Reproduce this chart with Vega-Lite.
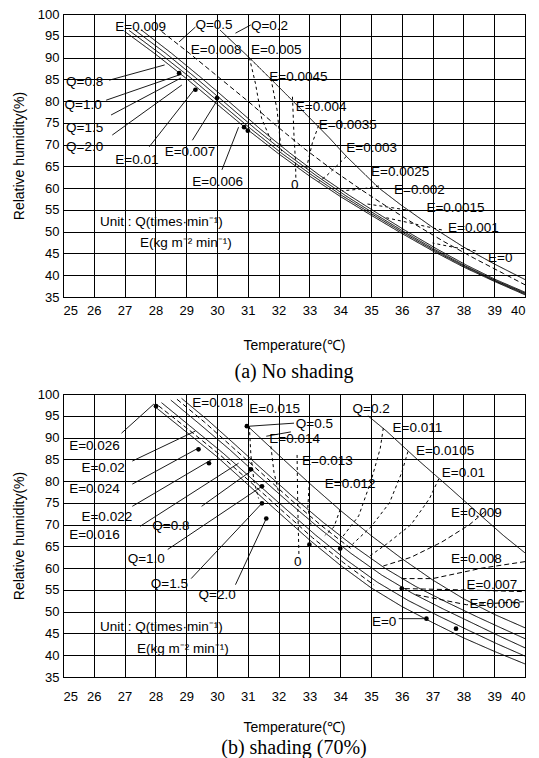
{
  "$schema": "https://vega.github.io/schema/vega-lite/v6.json",
  "padding": {"left": 11, "top": 7, "right": 8, "bottom": 2},
  "background": "white",
  "spacing": 4,
  "config": {
    "font": "Liberation Sans",
    "view": {"stroke": "black", "strokeWidth": 1},
    "axis": {
      "domainColor": "black", "gridColor": "#000", "gridOpacity": 1, "gridWidth": 1,
      "ticks": false, "labelFont": "Liberation Sans", "labelFontSize": 13, "labelColor": "black",
      "titleFont": "Liberation Sans", "titleFontSize": 14, "titleFontWeight": "normal", "titleColor": "black"
    },
    "title": {"font": "Liberation Serif", "fontSize": 20, "fontWeight": "normal", "color": "black"}
  },
  "datasets": {
    "topLines": [
      {"s":"Q2.0","k":"solid","i":0,"t":27.0,"rh":96},{"s":"Q2.0","k":"solid","i":1,"t":28,"rh":90.8},{"s":"Q2.0","k":"solid","i":2,"t":29,"rh":85.2},{"s":"Q2.0","k":"solid","i":3,"t":30,"rh":79.3},{"s":"Q2.0","k":"solid","i":4,"t":31,"rh":73.4},{"s":"Q2.0","k":"solid","i":5,"t":32,"rh":67.9},{"s":"Q2.0","k":"solid","i":6,"t":33,"rh":62.8},{"s":"Q2.0","k":"solid","i":7,"t":34,"rh":58.1},{"s":"Q2.0","k":"solid","i":8,"t":35,"rh":53.8},{"s":"Q2.0","k":"solid","i":9,"t":36,"rh":49.6},{"s":"Q2.0","k":"solid","i":10,"t":37,"rh":45.6},{"s":"Q2.0","k":"solid","i":11,"t":38,"rh":41.9},{"s":"Q2.0","k":"solid","i":12,"t":39,"rh":38.6},{"s":"Q2.0","k":"solid","i":13,"t":40,"rh":35.5},
      {"s":"Q1.5","k":"solid","i":0,"t":27.15,"rh":96.2},{"s":"Q1.5","k":"solid","i":1,"t":28.15,"rh":90.9},{"s":"Q1.5","k":"solid","i":2,"t":29.15,"rh":85.3},{"s":"Q1.5","k":"solid","i":3,"t":30.13,"rh":79.4},{"s":"Q1.5","k":"solid","i":4,"t":31.12,"rh":73.5},{"s":"Q1.5","k":"solid","i":5,"t":32.1,"rh":68},{"s":"Q1.5","k":"solid","i":6,"t":33.1,"rh":62.9},{"s":"Q1.5","k":"solid","i":7,"t":34.08,"rh":58.2},{"s":"Q1.5","k":"solid","i":8,"t":35.07,"rh":53.9},{"s":"Q1.5","k":"solid","i":9,"t":36.06,"rh":49.7},{"s":"Q1.5","k":"solid","i":10,"t":37.05,"rh":45.7},{"s":"Q1.5","k":"solid","i":11,"t":38.04,"rh":42},{"s":"Q1.5","k":"solid","i":12,"t":39.02,"rh":38.7},{"s":"Q1.5","k":"solid","i":13,"t":40,"rh":35.7},
      {"s":"Q1.0","k":"solid","i":0,"t":27.35,"rh":96.2},{"s":"Q1.0","k":"solid","i":1,"t":28.33,"rh":91},{"s":"Q1.0","k":"solid","i":2,"t":29.3,"rh":85.4},{"s":"Q1.0","k":"solid","i":3,"t":30.28,"rh":79.5},{"s":"Q1.0","k":"solid","i":4,"t":31.25,"rh":73.6},{"s":"Q1.0","k":"solid","i":5,"t":32.22,"rh":68.1},{"s":"Q1.0","k":"solid","i":6,"t":33.2,"rh":63},{"s":"Q1.0","k":"solid","i":7,"t":34.17,"rh":58.3},{"s":"Q1.0","k":"solid","i":8,"t":35.14,"rh":54},{"s":"Q1.0","k":"solid","i":9,"t":36.12,"rh":49.8},{"s":"Q1.0","k":"solid","i":10,"t":37.1,"rh":45.8},{"s":"Q1.0","k":"solid","i":11,"t":38.07,"rh":42.1},{"s":"Q1.0","k":"solid","i":12,"t":39.04,"rh":38.8},{"s":"Q1.0","k":"solid","i":13,"t":40,"rh":35.9},
      {"s":"Q0.8","k":"solid","i":0,"t":27.55,"rh":96.3},{"s":"Q0.8","k":"solid","i":1,"t":28.52,"rh":91},{"s":"Q0.8","k":"solid","i":2,"t":29.48,"rh":85.4},{"s":"Q0.8","k":"solid","i":3,"t":30.45,"rh":79.5},{"s":"Q0.8","k":"solid","i":4,"t":31.4,"rh":73.6},{"s":"Q0.8","k":"solid","i":5,"t":32.36,"rh":68.1},{"s":"Q0.8","k":"solid","i":6,"t":33.32,"rh":63},{"s":"Q0.8","k":"solid","i":7,"t":34.28,"rh":58.4},{"s":"Q0.8","k":"solid","i":8,"t":35.24,"rh":54.1},{"s":"Q0.8","k":"solid","i":9,"t":36.2,"rh":49.9},{"s":"Q0.8","k":"solid","i":10,"t":37.17,"rh":45.9},{"s":"Q0.8","k":"solid","i":11,"t":38.13,"rh":42.2},{"s":"Q0.8","k":"solid","i":12,"t":39.08,"rh":38.9},{"s":"Q0.8","k":"solid","i":13,"t":40,"rh":36.1},
      {"s":"Q0.5","k":"dash","i":0,"t":28.2,"rh":96},{"s":"Q0.5","k":"dash","i":1,"t":29.1,"rh":91},{"s":"Q0.5","k":"dash","i":2,"t":30.05,"rh":85.5},{"s":"Q0.5","k":"dash","i":3,"t":31.0,"rh":80},{"s":"Q0.5","k":"dash","i":4,"t":31.9,"rh":74.5},{"s":"Q0.5","k":"dash","i":5,"t":32.85,"rh":69},{"s":"Q0.5","k":"dash","i":6,"t":33.75,"rh":64.2},{"s":"Q0.5","k":"dash","i":7,"t":34.65,"rh":59.8},{"s":"Q0.5","k":"dash","i":8,"t":35.55,"rh":55.6},{"s":"Q0.5","k":"dash","i":9,"t":36.45,"rh":51.6},{"s":"Q0.5","k":"dash","i":10,"t":37.4,"rh":47.6},{"s":"Q0.5","k":"dash","i":11,"t":38.35,"rh":43.9},{"s":"Q0.5","k":"dash","i":12,"t":39.3,"rh":40.4},{"s":"Q0.5","k":"dash","i":13,"t":40,"rh":37.8},
      {"s":"Q0.2","k":"solid","i":0,"t":30.1,"rh":96.3},{"s":"Q0.2","k":"solid","i":1,"t":31,"rh":90.3},{"s":"Q0.2","k":"solid","i":2,"t":32,"rh":83.3},{"s":"Q0.2","k":"solid","i":3,"t":33,"rh":76.2},{"s":"Q0.2","k":"solid","i":4,"t":33.64,"rh":71.6},{"s":"Q0.2","k":"solid","i":5,"t":34.2,"rh":67.3},{"s":"Q0.2","k":"solid","i":6,"t":35.26,"rh":60},{"s":"Q0.2","k":"solid","i":7,"t":36,"rh":56},{"s":"Q0.2","k":"solid","i":8,"t":37,"rh":51},{"s":"Q0.2","k":"solid","i":9,"t":38,"rh":46.5},{"s":"Q0.2","k":"solid","i":10,"t":39,"rh":42.6},{"s":"Q0.2","k":"solid","i":11,"t":40,"rh":39},
      {"s":"E1","k":"dot","i":0,"t":31.05,"rh":90},{"s":"E1","k":"dot","i":1,"t":31.25,"rh":84},{"s":"E1","k":"dot","i":2,"t":31.45,"rh":76},{"s":"E1","k":"dot","i":3,"t":31.75,"rh":71},
      {"s":"E2","k":"dot","i":0,"t":31.75,"rh":85.2},{"s":"E2","k":"dot","i":1,"t":31.95,"rh":78},{"s":"E2","k":"dot","i":2,"t":32.05,"rh":71},{"s":"E2","k":"dot","i":3,"t":32.1,"rh":68.5},
      {"s":"Q0","k":"dot","i":0,"t":32.45,"rh":81},{"s":"Q0","k":"dot","i":1,"t":32.5,"rh":72},{"s":"Q0","k":"dot","i":2,"t":32.55,"rh":66},{"s":"Q0","k":"dot","i":3,"t":32.56,"rh":62.3},
      {"s":"E4","k":"dot","i":0,"t":33.3,"rh":74.4},{"s":"E4","k":"dot","i":1,"t":33.1,"rh":70.5},{"s":"E4","k":"dot","i":2,"t":32.95,"rh":66},{"s":"E4","k":"dot","i":3,"t":32.9,"rh":64},
      {"s":"E5","k":"dot","i":0,"t":34.2,"rh":67.3},{"s":"E5","k":"dot","i":1,"t":33.9,"rh":65.2},{"s":"E5","k":"dot","i":2,"t":33.55,"rh":62.8},{"s":"E5","k":"dot","i":3,"t":33.3,"rh":61.5},
      {"s":"E6","k":"dot","i":0,"t":35.26,"rh":60.5},{"s":"E6","k":"dot","i":1,"t":34.7,"rh":59.8},{"s":"E6","k":"dot","i":2,"t":34.06,"rh":59.4},
      {"s":"E7","k":"dot","i":0,"t":36.33,"rh":54.8},{"s":"E7","k":"dot","i":1,"t":35.6,"rh":55.6},{"s":"E7","k":"dot","i":2,"t":34.84,"rh":56.4},
      {"s":"E8","k":"dot","i":0,"t":37.3,"rh":50.4},{"s":"E8","k":"dot","i":1,"t":36.4,"rh":51.8},{"s":"E8","k":"dot","i":2,"t":35.5,"rh":53.2},
      {"s":"E9","k":"dot","i":0,"t":38.4,"rh":45.6},{"s":"E9","k":"dot","i":1,"t":37.7,"rh":46.4},{"s":"E9","k":"dot","i":2,"t":37.0,"rh":47.4}
    ],
    "topLeaders": [
      {"t":26.5,"rh":84.8,"t2":28.3,"rh2":88.3},{"t":26.4,"rh":80.2,"t2":28.77,"rh2":86},{"t":26.56,"rh":76.8,"t2":28.83,"rh2":85.3},{"t":26.6,"rh":72.2,"t2":28.86,"rh2":83.7},
      {"t":27.8,"rh":69.5,"t2":29.3,"rh2":83},{"t":29.2,"rh":71,"t2":30.07,"rh2":80.9},{"t":30.16,"rh":64.2,"t2":30.7,"rh2":74},
      {"t":29.3,"rh":97,"t2":28.77,"rh2":93.6},{"t":31.1,"rh":97.5,"t2":30.6,"rh2":95.6}
    ],
    "topDots": [
      {"t":28.77,"rh":86.4},{"t":29.3,"rh":82.6},{"t":30.0,"rh":80.7},{"t":30.88,"rh":74},{"t":31.0,"rh":73.2}
    ],
    "topLabels": [
      {"t":26.7,"rh":97,"label":"E=0.009"},{"t":29.3,"rh":97.5,"label":"Q=0.5"},{"t":31.1,"rh":97.3,"label":"Q=0.2"},
      {"t":29.15,"rh":91.7,"label":"E=0.008"},{"t":31.1,"rh":91.7,"label":"E=0.005"},{"t":31.7,"rh":85.5,"label":"E=0.0045"},
      {"t":32.56,"rh":78.6,"label":"E=0.004"},{"t":33.3,"rh":74.5,"label":"E=0.0035"},{"t":34.2,"rh":69.2,"label":"E=0.003"},
      {"t":35.0,"rh":63.7,"label":"E=0.0025"},{"t":35.75,"rh":59.6,"label":"E=0.002"},{"t":36.8,"rh":55.4,"label":"E=0.0015"},
      {"t":37.5,"rh":50.9,"label":"E=0.001"},{"t":38.8,"rh":44,"label":"E=0"},
      {"t":25.1,"rh":84.4,"label":"Q=0.8"},{"t":25.05,"rh":79,"label":"Q=1.0"},{"t":25.1,"rh":73.8,"label":"Q=1.5"},{"t":25.1,"rh":69.5,"label":"Q=2.0"},
      {"t":26.7,"rh":66.5,"label":"E=0.01"},{"t":28.3,"rh":68.3,"label":"E=0.007"},{"t":29.2,"rh":61.4,"label":"E=0.006"},
      {"t":32.4,"rh":60.7,"label":"0"},
      {"t":26.2,"rh":52.2,"label":"Unit : Q(times·min⁻¹)"},{"t":27.5,"rh":47.4,"label":"E(kg m⁻² min⁻¹)"}
    ],
    "botLines": [
      {"s":"Q2.0","k":"solid","i":0,"t":28,"rh":97},{"s":"Q2.0","k":"solid","i":1,"t":29,"rh":91.3},{"s":"Q2.0","k":"solid","i":2,"t":30,"rh":85.6},{"s":"Q2.0","k":"solid","i":3,"t":31,"rh":79.2},{"s":"Q2.0","k":"solid","i":4,"t":32,"rh":72.8},{"s":"Q2.0","k":"solid","i":5,"t":33,"rh":66.5},{"s":"Q2.0","k":"solid","i":6,"t":34,"rh":60.7},{"s":"Q2.0","k":"solid","i":7,"t":35,"rh":55.5},{"s":"Q2.0","k":"solid","i":8,"t":36,"rh":51.2},{"s":"Q2.0","k":"solid","i":9,"t":37,"rh":47.5},{"s":"Q2.0","k":"solid","i":10,"t":38,"rh":44},{"s":"Q2.0","k":"solid","i":11,"t":39,"rh":40.9},{"s":"Q2.0","k":"solid","i":12,"t":40,"rh":38},
      {"s":"Q1.5","k":"solid","i":0,"t":28.2,"rh":98},{"s":"Q1.5","k":"solid","i":1,"t":29.2,"rh":92.2},{"s":"Q1.5","k":"solid","i":2,"t":30.2,"rh":86.4},{"s":"Q1.5","k":"solid","i":3,"t":31.2,"rh":80.1},{"s":"Q1.5","k":"solid","i":4,"t":32.2,"rh":73.8},{"s":"Q1.5","k":"solid","i":5,"t":33.2,"rh":67.6},{"s":"Q1.5","k":"solid","i":6,"t":34.2,"rh":61.9},{"s":"Q1.5","k":"solid","i":7,"t":35.2,"rh":56.8},{"s":"Q1.5","k":"solid","i":8,"t":36.2,"rh":52.6},{"s":"Q1.5","k":"solid","i":9,"t":37.2,"rh":49},{"s":"Q1.5","k":"solid","i":10,"t":38.2,"rh":45.6},{"s":"Q1.5","k":"solid","i":11,"t":39.1,"rh":42.6},{"s":"Q1.5","k":"solid","i":12,"t":40,"rh":39.8},
      {"s":"Q1.0","k":"solid","i":0,"t":28.5,"rh":98.6},{"s":"Q1.0","k":"solid","i":1,"t":29.45,"rh":93},{"s":"Q1.0","k":"solid","i":2,"t":30.4,"rh":87.3},{"s":"Q1.0","k":"solid","i":3,"t":31.35,"rh":81.2},{"s":"Q1.0","k":"solid","i":4,"t":32.35,"rh":75},{"s":"Q1.0","k":"solid","i":5,"t":33.35,"rh":69},{"s":"Q1.0","k":"solid","i":6,"t":34.35,"rh":63.4},{"s":"Q1.0","k":"solid","i":7,"t":35.35,"rh":58.4},{"s":"Q1.0","k":"solid","i":8,"t":36.35,"rh":54.2},{"s":"Q1.0","k":"solid","i":9,"t":37.35,"rh":50.6},{"s":"Q1.0","k":"solid","i":10,"t":38.35,"rh":47.2},{"s":"Q1.0","k":"solid","i":11,"t":39.2,"rh":44.3},{"s":"Q1.0","k":"solid","i":12,"t":40,"rh":41.7},
      {"s":"Q0.8","k":"solid","i":0,"t":28.85,"rh":99},{"s":"Q0.8","k":"solid","i":1,"t":29.7,"rh":94},{"s":"Q0.8","k":"solid","i":2,"t":30.6,"rh":88.3},{"s":"Q0.8","k":"solid","i":3,"t":31.5,"rh":82.5},{"s":"Q0.8","k":"solid","i":4,"t":32.45,"rh":76.5},{"s":"Q0.8","k":"solid","i":5,"t":33.45,"rh":70.5},{"s":"Q0.8","k":"solid","i":6,"t":34.45,"rh":65},{"s":"Q0.8","k":"solid","i":7,"t":35.45,"rh":60},{"s":"Q0.8","k":"solid","i":8,"t":36.45,"rh":55.8},{"s":"Q0.8","k":"solid","i":9,"t":37.45,"rh":52.2},{"s":"Q0.8","k":"solid","i":10,"t":38.45,"rh":48.8},{"s":"Q0.8","k":"solid","i":11,"t":39.25,"rh":46.2},{"s":"Q0.8","k":"solid","i":12,"t":40,"rh":43.8},
      {"s":"Q0.5","k":"solid","i":0,"t":31.0,"rh":92.6},{"s":"Q0.5","k":"solid","i":1,"t":32,"rh":86},{"s":"Q0.5","k":"solid","i":2,"t":33,"rh":79.5},{"s":"Q0.5","k":"solid","i":3,"t":34,"rh":73.3},{"s":"Q0.5","k":"solid","i":4,"t":35,"rh":67.5},{"s":"Q0.5","k":"solid","i":5,"t":36,"rh":62.2},{"s":"Q0.5","k":"solid","i":6,"t":37,"rh":57.3},{"s":"Q0.5","k":"solid","i":7,"t":38,"rh":53},{"s":"Q0.5","k":"solid","i":8,"t":39,"rh":49.4},{"s":"Q0.5","k":"solid","i":9,"t":40,"rh":46.3},
      {"s":"Q0.2","k":"solid","i":0,"t":34.9,"rh":95},{"s":"Q0.2","k":"solid","i":1,"t":35.5,"rh":91.5},{"s":"Q0.2","k":"solid","i":2,"t":36.5,"rh":85},{"s":"Q0.2","k":"solid","i":3,"t":37.5,"rh":78.8},{"s":"Q0.2","k":"solid","i":4,"t":38.5,"rh":72.5},{"s":"Q0.2","k":"solid","i":5,"t":39.3,"rh":67.5},{"s":"Q0.2","k":"solid","i":6,"t":40,"rh":63.5},
      {"s":"D1","k":"dash","i":0,"t":28.1,"rh":97.3},{"s":"D1","k":"dash","i":1,"t":29.1,"rh":91.7},{"s":"D1","k":"dash","i":2,"t":30.1,"rh":86},{"s":"D1","k":"dash","i":3,"t":31.1,"rh":79.7},{"s":"D1","k":"dash","i":4,"t":32.1,"rh":73.3},{"s":"D1","k":"dash","i":5,"t":33.1,"rh":67},{"s":"D1","k":"dash","i":6,"t":34.1,"rh":61.3},{"s":"D1","k":"dash","i":7,"t":35.1,"rh":56.1},
      {"s":"D2","k":"dash","i":0,"t":28.7,"rh":98.8},{"s":"D2","k":"dash","i":1,"t":29.6,"rh":93.5},{"s":"D2","k":"dash","i":2,"t":30.5,"rh":87.8},{"s":"D2","k":"dash","i":3,"t":31.45,"rh":81.8},{"s":"D2","k":"dash","i":4,"t":32.4,"rh":75.7},{"s":"D2","k":"dash","i":5,"t":33.4,"rh":69.7},{"s":"D2","k":"dash","i":6,"t":34.4,"rh":64.2},
      {"s":"E015","k":"dot","i":0,"t":31.05,"rh":92.6},{"s":"E015","k":"dot","i":1,"t":31.1,"rh":86},{"s":"E015","k":"dot","i":2,"t":31.2,"rh":80},{"s":"E015","k":"dot","i":3,"t":31.35,"rh":76},
      {"s":"E014","k":"dot","i":0,"t":31.75,"rh":88},{"s":"E014","k":"dot","i":1,"t":31.85,"rh":82},{"s":"E014","k":"dot","i":2,"t":32.0,"rh":77.5},
      {"s":"Q0","k":"dot","i":0,"t":32.6,"rh":86},{"s":"Q0","k":"dot","i":1,"t":32.62,"rh":75},{"s":"Q0","k":"dot","i":2,"t":32.65,"rh":66},{"s":"Q0","k":"dot","i":3,"t":32.66,"rh":63},
      {"s":"E013","k":"dot","i":0,"t":33.0,"rh":80},{"s":"E013","k":"dot","i":1,"t":32.95,"rh":74},{"s":"E013","k":"dot","i":2,"t":33.05,"rh":70},
      {"s":"E012","k":"dot","i":0,"t":34.0,"rh":73.5},{"s":"E012","k":"dot","i":1,"t":33.8,"rh":69.5},{"s":"E012","k":"dot","i":2,"t":33.5,"rh":67.5},
      {"s":"E011","k":"dot","i":0,"t":35.4,"rh":92.2},{"s":"E011","k":"dot","i":1,"t":35.3,"rh":87.5},{"s":"E011","k":"dot","i":2,"t":35.0,"rh":80},{"s":"E011","k":"dot","i":3,"t":34.6,"rh":72},{"s":"E011","k":"dot","i":4,"t":34.0,"rh":66.5},
      {"s":"E0105","k":"dot","i":0,"t":36.2,"rh":86.8},{"s":"E0105","k":"dot","i":1,"t":36.0,"rh":82},{"s":"E0105","k":"dot","i":2,"t":35.6,"rh":75},{"s":"E0105","k":"dot","i":3,"t":35.0,"rh":69.5},{"s":"E0105","k":"dot","i":4,"t":34.4,"rh":65.5},
      {"s":"E010","k":"dot","i":0,"t":37.2,"rh":80.5},{"s":"E010","k":"dot","i":1,"t":36.9,"rh":76},{"s":"E010","k":"dot","i":2,"t":36.3,"rh":70},{"s":"E010","k":"dot","i":3,"t":35.5,"rh":65.5},{"s":"E010","k":"dot","i":4,"t":34.9,"rh":62.5},
      {"s":"E009","k":"dash","i":0,"t":38.7,"rh":73},{"s":"E009","k":"dash","i":1,"t":38.2,"rh":70},{"s":"E009","k":"dash","i":2,"t":37.3,"rh":66},{"s":"E009","k":"dash","i":3,"t":36.3,"rh":62.5},{"s":"E009","k":"dash","i":4,"t":35.4,"rh":60.5},
      {"s":"E008","k":"dash","i":0,"t":40,"rh":61.5},{"s":"E008","k":"dash","i":1,"t":38.6,"rh":60},{"s":"E008","k":"dash","i":2,"t":37,"rh":57.6},{"s":"E008","k":"dash","i":3,"t":35.9,"rh":57.6},
      {"s":"E007","k":"dash","i":0,"t":36.1,"rh":55.3},{"s":"E007","k":"dash","i":1,"t":38,"rh":55},{"s":"E007","k":"dash","i":2,"t":40,"rh":54.6},
      {"s":"E006","k":"dash","i":0,"t":36.46,"rh":53.9},{"s":"E006","k":"dash","i":1,"t":38.1,"rh":51.6},{"s":"E006","k":"dash","i":2,"t":40,"rh":52.3}
    ],
    "botLeaders": [
      {"t":26.9,"rh":91,"t2":27.95,"rh2":97.7},{"t":27.25,"rh":84.6,"t2":29.3,"rh2":91.5},{"t":27.25,"rh":79.3,"t2":29.4,"rh2":87.6},
      {"t":27.25,"rh":74.2,"t2":29.84,"rh2":85},{"t":27.5,"rh":69.6,"t2":30.7,"rh2":84.1},{"t":29.5,"rh":74.2,"t2":31.1,"rh2":82.3},
      {"t":28.4,"rh":64.3,"t2":31.46,"rh2":78.8},{"t":29.16,"rh":57.6,"t2":31.46,"rh2":74.9},{"t":30.6,"rh":56.2,"t2":31.6,"rh2":71.4},
      {"t":32.5,"rh":93.3,"t2":31.05,"rh2":92.6},{"t":32.4,"rh":91.3,"t2":31.6,"rh2":90.3},{"t":35.9,"rh":48.4,"t2":36.8,"rh2":48.4}
    ],
    "botDots": [
      {"t":28.02,"rh":97.2},{"t":30.97,"rh":92.6},{"t":29.4,"rh":87.3},{"t":29.74,"rh":84.1},{"t":31.1,"rh":82.7},{"t":31.46,"rh":78.8},
      {"t":31.46,"rh":74.9},{"t":31.6,"rh":71.4},{"t":33,"rh":65.4},{"t":34,"rh":64.5},{"t":36,"rh":55.3},{"t":36.8,"rh":48.4},{"t":37.76,"rh":46.1}
    ],
    "botLabels": [
      {"t":29.2,"rh":98,"label":"E=0.018"},{"t":31.05,"rh":96.5,"label":"E=0.015"},{"t":32.56,"rh":93,"label":"Q=0.5"},
      {"t":31.7,"rh":89.6,"label":"E=0.014"},{"t":34.4,"rh":96.5,"label":"Q=0.2"},{"t":35.7,"rh":92.2,"label":"E=0.011"},
      {"t":32.76,"rh":84.6,"label":"E=0.013"},{"t":36.46,"rh":86.9,"label":"E=0.0105"},{"t":33.5,"rh":79.3,"label":"E=0.012"},
      {"t":37.3,"rh":81.8,"label":"E=0.01"},{"t":37.6,"rh":72.6,"label":"E=0.009"},{"t":37.6,"rh":62.2,"label":"E=0.008"},
      {"t":38.1,"rh":56.2,"label":"E=0.007"},{"t":38.2,"rh":51.8,"label":"E=0.006"},{"t":35.03,"rh":47.7,"label":"E=0"},
      {"t":25.2,"rh":88,"label":"E=0.026"},{"t":25.6,"rh":83,"label":"E=0.02"},{"t":25.2,"rh":78.1,"label":"E=0.024"},
      {"t":25.6,"rh":71.7,"label":"E=0.022"},{"t":25.2,"rh":67.7,"label":"E=0.016"},{"t":27.9,"rh":69.6,"label":"Q=0.8"},
      {"t":27.1,"rh":62.2,"label":"Q=1.0"},{"t":27.85,"rh":56.4,"label":"Q=1.5"},{"t":29.4,"rh":53.9,"label":"Q=2.0"},
      {"t":32.5,"rh":61.5,"label":"0"},
      {"t":26.2,"rh":46.5,"label":"Unit : Q(times·min⁻¹)"},{"t":27.4,"rh":41.5,"label":"E(kg m⁻² min⁻¹)"}
    ]
  },
  "vconcat": [
    {
      "width": 462, "height": 283,
      "title": {"text": "(a) No shading", "orient": "bottom", "anchor": "middle", "offset": 10},
      "encoding": {
        "x": {"field": "t", "type": "quantitative", "scale": {"domain": [25, 40], "nice": false},
              "axis": {"values": [25,26,27,28,29,30,31,32,33,34,35,36,37,38,39,40], "title": "Temperature(℃)", "labelPadding": 7, "titlePadding": 21}},
        "y": {"field": "rh", "type": "quantitative", "scale": {"domain": [35, 100], "nice": false},
              "axis": {"values": [35,40,45,50,55,60,65,70,75,80,85,90,95,100], "title": "Relative humidity(%)", "labelPadding": 4, "titlePadding": 11}}
      },
      "layer": [
        {"data": {"name": "topLines"}, "mark": {"type": "line", "color": "black", "strokeWidth": 1, "clip": true},
         "encoding": {"detail": {"field": "s"}, "order": {"field": "i", "type": "quantitative"},
                      "strokeDash": {"field": "k", "type": "nominal", "scale": {"domain": ["solid","dash","dot"], "range": [[1,0],[5,3],[3,3]]}, "legend": null}}},
        {"data": {"name": "topLeaders"}, "mark": {"type": "rule", "color": "black", "strokeWidth": 0.9},
         "encoding": {"x2": {"field": "t2"}, "y2": {"field": "rh2"}}},
        {"data": {"name": "topDots"}, "mark": {"type": "point", "filled": true, "color": "black", "size": 22, "opacity": 1}},
        {"data": {"name": "topLabels"}, "mark": {"type": "text", "align": "left", "baseline": "middle", "fontSize": 13.5, "color": "black", "font": "Liberation Sans"},
         "encoding": {"text": {"field": "label"}}}
      ]
    },
    {
      "width": 462, "height": 283,
      "title": {"text": "(b) shading (70%)", "orient": "bottom", "anchor": "middle", "offset": 4},
      "encoding": {
        "x": {"field": "t", "type": "quantitative", "scale": {"domain": [25, 40], "nice": false},
              "axis": {"values": [25,26,27,28,29,30,31,32,33,34,35,36,37,38,39,40], "title": "Temperature(℃)", "labelPadding": 13, "titlePadding": 17}},
        "y": {"field": "rh", "type": "quantitative", "scale": {"domain": [35, 100], "nice": false},
              "axis": {"values": [35,40,45,50,55,60,65,70,75,80,85,90,95,100], "title": "Relative humidity(%)", "labelPadding": 4, "titlePadding": 11}}
      },
      "layer": [
        {"data": {"name": "botLines"}, "mark": {"type": "line", "color": "black", "strokeWidth": 1, "clip": true},
         "encoding": {"detail": {"field": "s"}, "order": {"field": "i", "type": "quantitative"},
                      "strokeDash": {"field": "k", "type": "nominal", "scale": {"domain": ["solid","dash","dot"], "range": [[1,0],[5,3],[2,4]]}, "legend": null}}},
        {"data": {"name": "botLeaders"}, "mark": {"type": "rule", "color": "black", "strokeWidth": 0.9},
         "encoding": {"x2": {"field": "t2"}, "y2": {"field": "rh2"}}},
        {"data": {"name": "botDots"}, "mark": {"type": "point", "filled": true, "color": "black", "size": 22, "opacity": 1}},
        {"data": {"name": "botLabels"}, "mark": {"type": "text", "align": "left", "baseline": "middle", "fontSize": 13.5, "color": "black", "font": "Liberation Sans"},
         "encoding": {"text": {"field": "label"}}}
      ]
    }
  ]
}
